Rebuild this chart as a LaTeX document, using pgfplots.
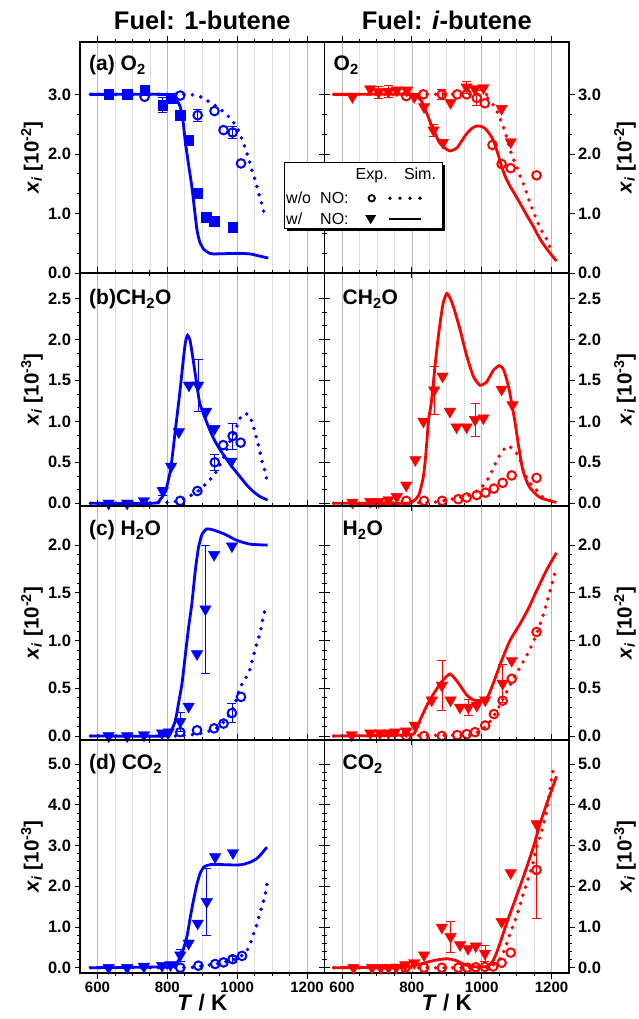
\documentclass[border=0pt]{standalone}
\usepackage{pgfplots}
\pgfplotsset{compat=1.18}
\usepackage{fontspec}
\setmainfont{Liberation Sans}
\usetikzlibrary{shadows}
\definecolor{cb}{RGB}{0,0,255}
\definecolor{cr}{RGB}{255,0,0}
\tikzset{plab/.style={anchor=base west, inner sep=0pt, font=\bfseries\fontsize{21}{22}\selectfont}}
\pgfplotsset{
  panel/.style={
    scale only axis, width=244.5pt,
    xmin=550, xmax=1250,
    xtick={600,800,1000,1200}, minor x tick num=3,
    xmajorgrids, xminorgrids,
    major grid style={draw=gray!55, line width=0.6pt},
    minor grid style={draw=gray!25, line width=0.6pt},
    tick align=outside, xtick pos=both, ytick pos=both,
    major tick length=5.5pt, minor tick length=3pt,
    every tick/.append style={black, line width=0.8pt},
    axis line style={line width=1.2pt},
    minor y tick num=4,
    xticklabel style={font=\bfseries\fontsize{15}{16}\selectfont},
    yticklabel style={font=\bfseries\fontsize{16.5}{17}\selectfont},
    /pgf/number format/assume math mode=true,
    yticklabel style={/pgf/number format/fixed, /pgf/number format/fixed zerofill, /pgf/number format/precision=1},
    scaled y ticks=false,
    xticklabels={},
  },
  leftp/.style={panel, every axis y label/.style={at={(rel axis cs:0,0.5)}, xshift=-48pt, rotate=90, anchor=center, font=\bfseries\fontsize{20.5}{21}\selectfont}},
  rightp/.style={panel, yticklabel pos=right, every axis y label/.style={at={(rel axis cs:1,0.5)}, xshift=56pt, rotate=90, anchor=center, font=\bfseries\fontsize{20.5}{21}\selectfont}},
  topp/.style={title style={at={(0.5,1)}, anchor=base, yshift=6.5pt, font=\bfseries\fontsize{25.5}{27}\selectfont}},
  botp/.style={xticklabels={600,800,1000,1200}, xlabel={\textit{T} / K},
    every axis x label/.style={at={(rel axis cs:0.5,0)}, anchor=base, yshift=-37pt, font=\bfseries\fontsize{22.5}{23}\selectfont}},
  simw/.style={line width=2.8pt, smooth, tension=0.35, mark=none},
  simwo/.style={line width=3.9pt, dash pattern=on 0pt off 8.5pt, line cap=round, smooth, tension=0.35, mark=none},
  sq/.style={only marks, mark=square*, mark size=4.8pt},
  tri/.style={only marks, mark=triangle*, mark size=6.6pt, mark options={rotate=180}},
  circ/.style={only marks, mark=o, mark size=4.3pt, mark options={line width=2pt}},
  eb/.style={draw=none, mark=none, forget plot, error bars/.cd, y dir=both, y explicit, error bar style={draw=#1, line width=0.7pt, solid}, error mark options={rotate=90, draw=#1, mark size=4.5pt, line width=0.7pt}},
}
\begin{document}
\begin{tikzpicture}
\useasboundingbox (0,0) rectangle (638pt,1019pt);
% ================= (a) O2 left
\begin{axis}[leftp, topp, at={(80pt,746pt)}, anchor=south west, height=231pt, minor y tick num=2,
  ymin=0, ymax=3.88, ytick={0,1,2,3}, ylabel={\textit{x}\textsubscript{\textit{i}} [10\textsuperscript{-2}]},
  title={Fuel: 1-butene}]
\addplot[cb, simwo] table[row sep=\\]{580 3.0\\ 850 3.0\\ 880 2.98\\ 900 2.95\\ 913 2.9\\ 935 2.82\\ 956 2.73\\ 980 2.6\\ 1000 2.44\\ 1018 2.18\\ 1034 1.9\\ 1042 1.73\\ 1051 1.57\\ 1064 1.29\\ 1080 0.95\\};
\addplot[cb, simw] table[row sep=\\]{580 3.0\\ 780 3.0\\ 810 2.98\\ 825 2.92\\ 837 2.79\\ 845 2.55\\ 851 2.23\\ 860 1.85\\ 870 1.46\\ 878 1.06\\ 885 0.72\\ 893 0.52\\ 904 0.40\\ 918 0.34\\ 932 0.32\\ 1000 0.33\\ 1037 0.32\\ 1060 0.29\\ 1089 0.25\\};
\addplot[eb=cb] table[x index=0, y index=1, y error index=2, row sep=\\]{787 2.82 0.13\\ 887 2.65 0.1\\ 987 2.36 0.1\\};
\addplot[cb, sq] table[row sep=\\]{632 3.0\\ 685 3.0\\ 735 3.07\\ 787 2.82\\ 811 2.94\\ 837 2.65\\ 861 2.23\\ 885 1.34\\ 911 0.94\\ 935 0.87\\ 987 0.77\\};
\addplot[cb, circ] table[row sep=\\]{735 2.96\\ 837 2.98\\ 887 2.65\\ 935 2.72\\ 961 2.4\\ 987 2.36\\ 1011 1.84\\};
\node[plab] at (rel axis cs:0,1) [xshift=9pt, yshift=-29pt] {(a) O\textsubscript{2}};
\end{axis}
% ================= (a) O2 right
\begin{axis}[rightp, topp, at={(324.5pt,746pt)}, anchor=south west, height=231pt, minor y tick num=2,
  ymin=0, ymax=3.88, ytick={0,1,2,3}, ylabel={\textit{x}\textsubscript{\textit{i}} [10\textsuperscript{-2}]},
  title={Fuel: \textit{i}-butene}]
\addplot[cr, simwo] table[row sep=\\]{576 3.0\\ 1000 3.0\\ 1012 2.96\\ 1024 2.9\\ 1043 2.73\\ 1055 2.56\\ 1067 2.37\\ 1076 2.18\\ 1086 1.98\\ 1100 1.79\\ 1112 1.6\\ 1124 1.43\\ 1138 1.18\\ 1157 0.9\\ 1174 0.68\\ 1189 0.54\\ 1198 0.39\\};
\addplot[cr, simw] table[row sep=\\]{576 3.0\\ 800 3.0\\ 814 2.98\\ 828 2.88\\ 843 2.68\\ 855 2.5\\ 867 2.34\\ 878 2.2\\ 890 2.12\\ 909 2.05\\ 929 2.1\\ 943 2.22\\ 957 2.34\\ 972 2.43\\ 986 2.47\\ 1000 2.46\\ 1009 2.43\\ 1021 2.35\\ 1033 2.23\\ 1045 2.03\\ 1057 1.79\\ 1069 1.6\\ 1081 1.46\\ 1095 1.32\\ 1109 1.18\\ 1128 0.98\\ 1147 0.79\\ 1167 0.57\\ 1182 0.44\\ 1195 0.34\\ 1214 0.2\\};
\addplot[eb=cr] table[x index=0, y index=1, y error index=2, row sep=\\]{705 3.04 0.1\\ 733 3.05 0.1\\ 862 2.4 0.1\\ 957 3.12 0.1\\ 886 3.0 0.09\\ 986 2.94 0.13\\};
\addplot[cr, tri] table[row sep=\\]{630 2.96\\ 681 3.09\\ 705 3.04\\ 733 3.05\\ 757 3.07\\ 786 3.07\\ 807 2.96\\ 835 2.79\\ 862 2.4\\ 889 2.19\\ 911 2.86\\ 957 3.12\\ 981 3.09\\ 1005 3.11\\ 1057 2.76\\ 1083 2.2\\};
\addplot[cr, circ] table[row sep=\\]{784 2.97\\ 833 3.0\\ 886 3.0\\ 930 3.0\\ 957 3.0\\ 986 2.94\\ 1009 2.85\\ 1031 2.15\\ 1057 1.83\\ 1083 1.76\\ 1157 1.64\\};
\node[plab] at (rel axis cs:0,1) [xshift=9pt, yshift=-29pt] {O\textsubscript{2}};
\end{axis}
% ================= (b) CH2O left
\begin{axis}[leftp, at={(80pt,513pt)}, anchor=south west, height=233pt, minor y tick num=2,
  ymin=-0.033, ymax=2.81, ytick={0,0.5,1,1.5,2,2.5}, ylabel={\textit{x}\textsubscript{\textit{i}} [10\textsuperscript{-3}]}]
\addplot[cb, simwo] table[row sep=\\]{580 0\\ 800 0.01\\ 837 0.04\\ 860 0.08\\ 885 0.14\\ 914 0.25\\ 938 0.37\\ 960 0.55\\ 980 0.76\\ 1000 0.95\\ 1012 1.07\\ 1023 1.09\\ 1034 1.08\\ 1044 0.97\\ 1052 0.85\\ 1062 0.69\\ 1070 0.53\\ 1078 0.42\\ 1085 0.28\\};
\addplot[cb, simw] table[row sep=\\]{580 0\\ 760 0\\ 780 0.05\\ 795 0.15\\ 810 0.43\\ 824 0.93\\ 836 1.36\\ 846 1.76\\ 852 1.97\\ 858 2.05\\ 865 1.99\\ 874 1.75\\ 884 1.46\\ 893 1.22\\ 908 1.04\\ 922 0.89\\ 935 0.77\\ 950 0.66\\ 971 0.53\\ 990 0.42\\ 1009 0.32\\ 1028 0.22\\ 1047 0.14\\ 1066 0.08\\ 1087 0.04\\};
\addplot[eb=cb] table[x index=0, y index=1, y error index=2, row sep=\\]{787 0.15 0.05\\ 888 1.44 0.32\\ 936 0.5 0.1\\ 987 0.82 0.16\\};
\addplot[cb, tri] table[row sep=\\]{632 0\\ 685 0\\ 733 0.03\\ 787 0.15\\ 811 0.45\\ 833 0.87\\ 862 1.44\\ 888 1.44\\ 911 1.12\\ 935 0.91\\ 983 0.51\\};
\addplot[cb, circ] table[row sep=\\]{837 0.03\\ 886 0.15\\ 936 0.5\\ 960 0.71\\ 987 0.82\\ 1010 0.74\\};
\node[plab] at (rel axis cs:0,1) [xshift=9pt, yshift=-32pt] {(b)CH\textsubscript{2}O};
\end{axis}
% ================= (b) CH2O right
\begin{axis}[rightp, at={(324.5pt,513pt)}, anchor=south west, height=233pt, minor y tick num=2,
  ymin=-0.033, ymax=2.81, ytick={0,0.5,1,1.5,2,2.5}, ylabel={\textit{x}\textsubscript{\textit{i}} [10\textsuperscript{-3}]}]
\addplot[cr, simwo] table[row sep=\\]{576 0\\ 850 0.01\\ 900 0.04\\ 950 0.08\\ 980 0.13\\ 1005 0.22\\ 1024 0.34\\ 1043 0.52\\ 1057 0.62\\ 1073 0.7\\ 1090 0.66\\ 1107 0.56\\ 1121 0.38\\ 1138 0.25\\ 1157 0.16\\ 1176 0.07\\ 1205 0.02\\};
\addplot[cr, simw] table[row sep=\\]{576 0\\ 780 0\\ 805 0.03\\ 820 0.1\\ 832 0.3\\ 838 0.5\\ 843 0.75\\ 848 1.02\\ 855 1.2\\ 860 1.4\\ 867 1.7\\ 874 1.97\\ 881 2.2\\ 890 2.45\\ 900 2.56\\ 910 2.5\\ 919 2.4\\ 928 2.27\\ 938 2.12\\ 957 1.8\\ 976 1.55\\ 995 1.44\\ 1014 1.48\\ 1033 1.62\\ 1050 1.68\\ 1060 1.65\\ 1067 1.58\\ 1077 1.42\\ 1086 1.22\\ 1095 1.0\\ 1105 0.72\\ 1115 0.46\\ 1124 0.32\\ 1138 0.19\\ 1167 0.07\\ 1214 0.01\\};
\addplot[eb=cr] table[x index=0, y index=1, y error index=2, row sep=\\]{864 1.38 0.29\\ 981 1.02 0.2\\};
\addplot[cr, tri] table[row sep=\\]{630 0.01\\ 681 0.02\\ 705 0.02\\ 733 0.04\\ 757 0.08\\ 784 0.22\\ 810 0.53\\ 833 1.0\\ 864 1.38\\ 888 1.55\\ 909 1.12\\ 928 0.93\\ 957 0.93\\ 981 1.02\\ 1005 1.04\\ 1057 1.39\\ 1088 1.2\\};
\addplot[cr, circ] table[row sep=\\]{784 0.03\\ 835 0.03\\ 887 0.03\\ 933 0.05\\ 957 0.07\\ 986 0.1\\ 1011 0.13\\ 1035 0.18\\ 1060 0.25\\ 1086 0.34\\ 1157 0.31\\};
\node[plab] at (rel axis cs:0,1) [xshift=18pt, yshift=-32pt] {CH\textsubscript{2}O};
\end{axis}
% ================= (c) H2O left
\begin{axis}[leftp, at={(80pt,279pt)}, anchor=south west, height=234pt,
  ymin=-0.042, ymax=2.41, ytick={0,0.5,1,1.5,2}, ylabel={\textit{x}\textsubscript{\textit{i}} [10\textsuperscript{-2}]}]
\addplot[cb, simwo] table[row sep=\\]{580 0\\ 820 0\\ 860 0.01\\ 900 0.03\\ 940 0.08\\ 970 0.18\\ 990 0.3\\ 1009 0.51\\ 1023 0.6\\ 1035 0.68\\ 1042 0.78\\ 1057 0.98\\ 1066 1.08\\ 1073 1.22\\ 1083 1.37\\};
\addplot[cb, simw] table[row sep=\\]{580 0\\ 790 0\\ 810 0.05\\ 823 0.16\\ 832 0.34\\ 842 0.55\\ 851 0.83\\ 861 1.14\\ 870 1.38\\ 880 1.73\\ 889 1.97\\ 899 2.11\\ 913 2.17\\ 930 2.16\\ 961 2.12\\ 999 2.05\\ 1037 2.01\\ 1087 2.0\\};
\addplot[eb=cb] table[x index=0, y index=1, y error index=2, row sep=\\]{837 0.15 0.1\\ 909 1.33 0.67\\ 985 0.24 0.1\\};
\addplot[cb, tri] table[row sep=\\]{632 0\\ 685 0\\ 733 0.01\\ 785 0.03\\ 804 0.04\\ 837 0.15\\ 861 0.31\\ 885 0.86\\ 909 1.33\\ 934 1.9\\ 985 1.99\\};
\addplot[cb, circ] table[row sep=\\]{837 0.04\\ 885 0.06\\ 934 0.08\\ 961 0.13\\ 985 0.24\\ 1011 0.41\\};
\node[plab] at (rel axis cs:0,1) [xshift=9pt, yshift=-30pt] {(c) H\textsubscript{2}O};
\end{axis}
% ================= (c) H2O right
\begin{axis}[rightp, at={(324.5pt,279pt)}, anchor=south west, height=234pt,
  ymin=-0.042, ymax=2.41, ytick={0,0.5,1,1.5,2}, ylabel={\textit{x}\textsubscript{\textit{i}} [10\textsuperscript{-2}]}]
\addplot[cr, simwo] table[row sep=\\]{576 0\\ 950 0.01\\ 980 0.03\\ 1000 0.06\\ 1030 0.18\\ 1060 0.38\\ 1085 0.56\\ 1110 0.72\\ 1137 0.9\\ 1155 1.05\\ 1174 1.24\\ 1189 1.43\\ 1198 1.55\\ 1210 1.71\\};
\addplot[cr, simw] table[row sep=\\]{576 0\\ 790 0.01\\ 810 0.05\\ 824 0.17\\ 843 0.32\\ 862 0.44\\ 886 0.57\\ 909 0.65\\ 930 0.57\\ 957 0.43\\ 975 0.38\\ 990 0.37\\ 1014 0.39\\ 1033 0.55\\ 1057 0.79\\ 1081 1.0\\ 1109 1.17\\ 1133 1.33\\ 1157 1.52\\ 1186 1.74\\ 1214 1.92\\};
\addplot[eb=cr] table[x index=0, y index=1, y error index=2, row sep=\\]{886 0.53 0.26\\ 962 0.3 0.08\\ 1060 0.55 0.2\\};
\addplot[cr, tri] table[row sep=\\]{628 0.01\\ 681 0.03\\ 709 0.03\\ 733 0.03\\ 752 0.04\\ 784 0.05\\ 809 0.11\\ 857 0.375\\ 886 0.53\\ 911 0.375\\ 938 0.3\\ 962 0.3\\ 986 0.32\\ 1010 0.375\\ 1060 0.55\\ 1086 0.79\\};
\addplot[cr, circ] table[row sep=\\]{784 0\\ 835 0\\ 886 0\\ 930 0.01\\ 957 0.02\\ 981 0.04\\ 1010 0.11\\ 1035 0.23\\ 1060 0.37\\ 1086 0.6\\ 1157 1.09\\};
\node[plab] at (rel axis cs:0,1) [xshift=18pt, yshift=-30pt] {H\textsubscript{2}O};
\end{axis}
% ================= (d) CO2 left
\begin{axis}[leftp, botp, at={(80pt,46pt)}, anchor=south west, height=233pt,
  ymin=-0.13, ymax=5.59, ytick={0,1,2,3,4,5}, ylabel={\textit{x}\textsubscript{\textit{i}} [10\textsuperscript{-3}]}]
\addplot[cb, simwo] table[row sep=\\]{580 0\\ 850 0\\ 900 0.04\\ 950 0.11\\ 990 0.2\\ 1014 0.3\\ 1028 0.42\\ 1039 0.63\\ 1048 0.86\\ 1057 1.08\\ 1064 1.31\\ 1072 1.53\\ 1079 1.75\\ 1084 1.96\\ 1087 2.21\\};
\addplot[cb, simw] table[row sep=\\]{580 0\\ 800 0.02\\ 818 0.05\\ 830 0.15\\ 842 0.35\\ 856 0.76\\ 866 1.25\\ 875 1.66\\ 885 2.06\\ 895 2.34\\ 906 2.48\\ 923 2.53\\ 960 2.53\\ 1000 2.52\\ 1019 2.54\\ 1040 2.6\\ 1056 2.68\\ 1070 2.8\\ 1085 2.96\\};
\addplot[eb=cb] table[x index=0, y index=1, y error index=2, row sep=\\]{837 0.31 0.15\\ 913 1.62 0.83\\ 987 0.21 0.08\\};
\addplot[cb, tri] table[row sep=\\]{632 0\\ 685 0\\ 733 0.03\\ 785 0.05\\ 809 0.07\\ 837 0.31\\ 861 0.6\\ 887 1.09\\ 913 1.62\\ 937 2.72\\ 988 2.82\\};
\addplot[cb, circ] table[row sep=\\]{837 0\\ 889 0.05\\ 937 0.09\\ 961 0.13\\ 987 0.21\\ 1014 0.29\\};
\node[plab] at (rel axis cs:0,1) [xshift=9pt, yshift=-30pt] {(d) CO\textsubscript{2}};
\end{axis}
% ================= (d) CO2 right
\begin{axis}[rightp, botp, at={(324.5pt,46pt)}, anchor=south west, height=233pt,
  ymin=-0.13, ymax=5.59, ytick={0,1,2,3,4,5}, ylabel={\textit{x}\textsubscript{\textit{i}} [10\textsuperscript{-3}]}]
\addplot[cr, simwo] table[row sep=\\]{576 0\\ 1000 0\\ 1030 0.05\\ 1045 0.15\\ 1057 0.27\\ 1071 0.57\\ 1081 0.83\\ 1093 1.1\\ 1105 1.4\\ 1119 1.81\\ 1133 2.18\\ 1146 2.54\\ 1157 2.95\\ 1171 3.32\\ 1186 3.85\\ 1195 4.35\\ 1207 4.99\\};
\addplot[cr, simw] table[row sep=\\]{576 0\\ 780 0.02\\ 824 0.09\\ 850 0.15\\ 871 0.19\\ 900 0.22\\ 925 0.18\\ 945 0.1\\ 965 0.04\\ 990 0.02\\ 1014 0.03\\ 1025 0.08\\ 1033 0.18\\ 1042 0.35\\ 1052 0.59\\ 1071 1.08\\ 1090 1.53\\ 1109 1.98\\ 1129 2.47\\ 1148 2.96\\ 1167 3.53\\ 1186 4.02\\ 1200 4.35\\ 1214 4.7\\};
\addplot[eb=cr] table[x index=0, y index=1, y error index=2, row sep=\\]{911 0.76 0.39\\ 1009.5 0.35 0.2\\ 1157 2.4 1.2\\};
\addplot[cr, tri] table[row sep=\\]{633 0\\ 686 0\\ 711 0\\ 733 0\\ 755 0.01\\ 781 0.07\\ 807 0.12\\ 835 0.31\\ 886 0.99\\ 911 0.76\\ 938 0.56\\ 961 0.47\\ 983 0.53\\ 1009.5 0.35\\ 1057 1.13\\ 1083 2.33\\ 1157 3.53\\};
\addplot[cr, circ] table[row sep=\\]{781 0\\ 835 0\\ 886 0\\ 933 0\\ 959 0\\ 983 0.01\\ 1009 0.02\\ 1033 0.03\\ 1057 0.12\\ 1083 0.37\\ 1157 2.4\\};
\node[plab] at (rel axis cs:0,1) [xshift=18pt, yshift=-30pt] {CO\textsubscript{2}};
\end{axis}
% ================= legend
\node[draw=black, line width=0.8pt, fill=white, anchor=north west, minimum width=157.7pt, minimum height=65.5pt, inner sep=0pt,
  drop shadow={shadow xshift=2.5pt, shadow yshift=-2.5pt, opacity=1, fill=black}] (leg) at (284pt,856.5pt) {};
\begin{scope}[shift={(leg.north west)}, every node/.style={inner sep=0pt, font=\fontsize{16}{18}\selectfont}]
 \node[anchor=base] at (87.7pt,-17.5pt) {Exp.};
 \node[anchor=base] at (136pt,-17.5pt) {Sim.};
 \node[anchor=base west] at (2pt,-40.8pt) {w/o};
 \node[anchor=base west] at (36pt,-40.8pt) {NO:};
 \node[anchor=base west] at (2pt,-62.5pt) {w/};
 \node[anchor=base west] at (36pt,-62.5pt) {NO:};
 \draw[line width=1.8pt] (87.7pt,-35.8pt) circle (3.2pt);
 \foreach \d in {106,116,126,136} \fill (\d pt,-35.8pt) circle (1.9pt);
 \fill (81.2pt,-52.6pt) -- (92.2pt,-52.6pt) -- (86.7pt,-61.6pt) -- cycle;
 \draw[line width=2.4pt] (105pt,-56.8pt) -- (137pt,-56.8pt);
\end{scope}
\end{tikzpicture}
\end{document}
